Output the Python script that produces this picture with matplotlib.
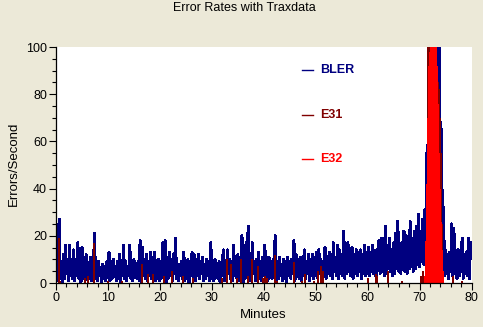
import numpy as np
import matplotlib
matplotlib.use('Agg')
import matplotlib.pyplot as plt
from matplotlib.ticker import MultipleLocator

plt.rcParams['font.family'] = ['Liberation Sans', 'DejaVu Sans']

# BLER: a low (base) and a high (peak) sample every 0.4 min
bler_base_t = np.arange(0, 80, 0.4)
bler_peak_t = bler_base_t + 0.2
bler_base = [
    2, 1, 3, 0, 2, 4, 1, 3, 2, 1, 3, 2, 0, 3, 1, 4, 2, 1, 3, 2, 1, 3, 0, 2, 1,
    3, 1, 2, 4, 1, 2, 0, 3, 2, 1, 3, 2, 1, 4, 2, 1, 0, 3, 2, 1, 3, 2, 4, 1, 2,
    1, 3, 2, 0, 2, 3, 1, 4, 2, 1, 3, 2, 1, 2, 0, 3, 2, 1, 3, 2, 4, 1, 2, 3, 1,
    2, 1, 3, 2, 0, 3, 1, 2, 4, 2, 1, 3, 2, 1, 3, 0, 2, 3, 1, 2, 4, 1, 3, 2, 1,
    3, 2, 1, 3, 2, 4, 1, 2, 3, 1, 2, 0, 3, 2, 4, 1, 3, 2, 1, 3, 2, 4, 1, 3, 2,
    3, 2, 4, 1, 3, 2, 4, 3, 2, 5, 3, 2, 4, 3, 2, 4, 5, 3, 2, 4, 3, 5, 2, 4, 3,
    4, 3, 5, 4, 3, 6, 4, 5, 3, 4, 6, 5, 3, 4, 6, 5, 4, 6, 5, 4, 6, 7, 5, 6, 8,
    7, 9, 8, 20, 45, 80, 70, 85, 75, 60, 45, 20, 3, 4, 2, 5, 3, 4, 2, 3, 5, 2, 4, 3, 2,
]
bler_peak = [
    10, 27, 9, 12, 16, 10, 16, 8, 14, 9, 17, 11, 15, 9, 12, 8, 11, 9, 21, 7, 9, 6, 8, 7, 9,
    13, 8, 10, 7, 9, 12, 8, 16, 9, 7, 16, 8, 10, 6, 9, 18, 15, 10, 12, 9, 13, 11, 13, 8, 10,
    9, 17, 18, 11, 13, 10, 12, 19, 7, 8, 9, 13, 8, 10, 9, 13, 12, 10, 12, 9, 11, 8, 10, 9, 17,
    8, 10, 7, 9, 8, 14, 9, 14, 10, 9, 16, 10, 12, 11, 20, 10, 17, 24, 10, 17, 9, 10, 13, 9, 11,
    16, 9, 11, 8, 10, 20, 9, 11, 8, 10, 9, 11, 9, 10, 18, 12, 9, 11, 10, 14, 9, 12, 10, 12, 11,
    13, 14, 10, 9, 15, 11, 13, 12, 17, 11, 16, 14, 12, 22, 15, 17, 13, 15, 12, 14, 13, 14, 12, 16, 13,
    15, 13, 16, 11, 14, 18, 19, 15, 24, 16, 19, 14, 17, 21, 26, 16, 17, 22, 20, 17, 26, 19, 22, 24, 29,
    22, 27, 31, 55, 130, 130, 130, 130, 130, 110, 65, 32, 14, 12, 13, 25, 23, 12, 14, 11, 19, 12, 13, 19, 17,
]

# E31: isolated spikes plus the burst around 72 min
e31_min = [0.5, 0.7, 5.5, 6.1, 7.3, 10.1, 12.7, 16.5, 17.7, 18.6, 20.7, 22.3,
           24.5, 26.3, 31.9, 32.9, 33.7, 34.9, 35.6, 35.7, 37.0, 37.8, 38.9,
           39.9, 40.3, 40.6, 42.1, 42.6, 45.9, 47.4, 48.0, 49.6, 50.4, 51.1,
           51.4, 60.1, 61.6, 61.9, 63.9, 66.6, 70.3, 70.6, 76.4, 78.1]
e31_val = [19, 1, 2, 3, 17, 1, 1, 8, 4, 4, 3, 5, 3, 2, 2, 10, 8, 2, 10, 10, 3,
           10, 7, 2, 3, 2, 12, 1, 9, 1, 4, 1, 5, 7, 5, 2, 4, 3, 5, 1, 3, 5, 3, 1]
e31_burst_min = np.linspace(71.2, 74.5, 34)
e31_burst = [3, 10, 20, 30, 50, 100, 110, 105, 110, 104, 90, 95, 85, 100, 90, 95,
             80, 90, 85, 80, 85, 80, 85, 80, 85, 82, 78, 70, 62, 55, 40, 25, 10, 4]

# E32: only the burst
e32_min = np.linspace(71.1, 74.6, 36)
e32_val = [3, 8, 18, 30, 42, 55, 70, 85, 92, 96, 98, 110, 115, 120, 118, 120, 115, 118,
           112, 108, 104, 100, 92, 84, 76, 66, 55, 48, 40, 32, 26, 20, 14, 10, 5, 2]

navy = '#000080'
maroon = '#800000'
red = '#ff0000'

bler_t = np.empty(len(bler_base_t) * 2)
bler_t[0::2] = bler_base_t
bler_t[1::2] = bler_peak_t
bler = np.empty(len(bler_t))
bler[0::2] = bler_base
bler[1::2] = bler_peak

fig = plt.figure(figsize=(4.83, 3.27), dpi=100, facecolor='#ece9d8')
ax = fig.add_axes([56/483, 1-283/327, (471.5-56)/483, 236/327])
ax.set_facecolor('white')

ax.plot(bler_t, bler, color=navy, lw=1.5, antialiased=False, zorder=2)
ax.vlines(e31_min, 0, e31_val, color=maroon, lw=1.2, antialiased=False, zorder=3)
ax.vlines(e31_burst_min, 0, e31_burst, color=maroon, lw=1.4, antialiased=False, zorder=3)
ax.vlines(e32_min, 0, e32_val, color=red, lw=1.4, antialiased=False, zorder=4)

ax.set_xlim(0, 80)
ax.set_ylim(0, 100)
ax.xaxis.set_major_locator(MultipleLocator(10))
ax.xaxis.set_minor_locator(MultipleLocator(2))
ax.yaxis.set_major_locator(MultipleLocator(20))
ax.yaxis.set_minor_locator(MultipleLocator(5))
ax.tick_params(which='major', direction='out', length=5, width=0.8, labelsize=9, pad=1.5)
ax.tick_params(which='minor', direction='out', length=3, width=0.8)
for s in ['top', 'right']:
    ax.spines[s].set_visible(False)
for s in ['left', 'bottom']:
    ax.spines[s].set_linewidth(0.9)
    ax.spines[s].set_zorder(5)

# legend drawn by hand
for yy, lab, col in [(0.9025, 'BLER', navy), (0.712, 'E31', maroon), (0.525, 'E32', red)]:
    ax.plot([0.592, 0.619], [yy, yy], color=col, lw=1, transform=ax.transAxes, zorder=6)
    ax.text(0.635, yy, lab, color=col, fontsize=9, fontweight='bold',
            va='center', ha='left', transform=ax.transAxes, zorder=6)

fig.text(0.505, 1-8/327, 'Error Rates with Traxdata', ha='center', va='center', fontsize=9)
fig.text(14/483, 1-164/327, 'Errors/Second', rotation=90, ha='center', va='center', fontsize=9.5)
fig.text(263/483, 1-315/327, 'Minutes', ha='center', va='center', fontsize=9.5)

fig.savefig('out.png', dpi=100, facecolor=fig.get_facecolor())
